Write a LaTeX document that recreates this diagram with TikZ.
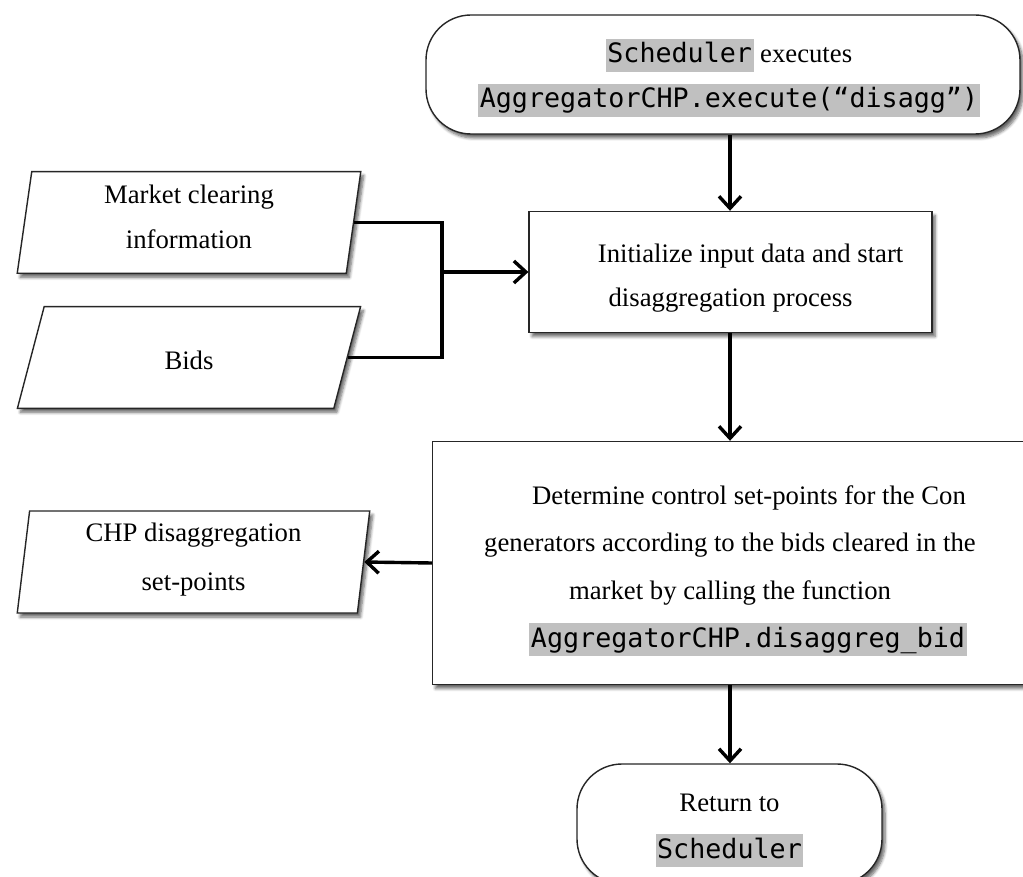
\documentclass[tikz,border=0pt]{standalone}
\usepackage{fontspec}
\setmainfont{Liberation Serif}
\setmonofont{DejaVu Sans Mono}
\usetikzlibrary{shapes.geometric,arrows.meta,shadows.blur}
\definecolor{hlgray}{RGB}{192,192,192}
\newcommand\hlcode[1]{{\setlength{\fboxsep}{1.5pt}\colorbox{hlgray}{\ttfamily\rule[-0.28em]{0pt}{1.13em}#1}}}
\newcommand\toppad[1]{\rule{0pt}{#1pt}}
\newcommand\botpad[1]{\rule[-#1pt]{0pt}{#1pt}}
\tikzset{
  base/.style={draw=black!85, line width=1.4pt, fill=white, align=center, inner sep=0pt,
    blur shadow={shadow xshift=3pt, shadow yshift=-4pt, shadow blur steps=6, shadow opacity=60, shadow blur radius=3pt}},
  proc/.style={base, rectangle},
  term/.style={base, rectangle, rounded corners=45pt},
  io/.style={base, trapezium, trapezium left angle=84, trapezium right angle=96, trapezium stretches=true},
  arr/.style={line width=3.4pt, -{Straight Barb[length=12pt,width=22pt]}},
  conn/.style={line width=3.4pt},
}
\begin{document}
\begin{tikzpicture}[x=1pt,y=-1pt]
\useasboundingbox (0,0) rectangle (1023,877);
\clip (0,0) rectangle (1023,877);
\node[term, minimum width=594, minimum height=119, font=\fontsize{26.7}{45}\selectfont] (start) at (723,74.5)
  {\toppad{31}\hspace*{12pt}\hlcode{Scheduler} executes\\\hspace*{12pt}\hlcode{AggregatorCHP.execute(“disagg”)}\botpad{9}};
\node[proc, minimum width=403, minimum height=121, font=\fontsize{26.7}{44}\selectfont] (init) at (730.6,272)
  {\toppad{34.6}\hspace*{40pt}Initialize input data and start\\disaggregation process\botpad{9}};
\node[proc, minimum width=595, minimum height=243, font=\fontsize{26.7}{47.7}\selectfont] (det) at (730,563)
  {\toppad{34.1}\hspace*{38pt}Determine control set-points for the Con\\generators according to the bids cleared in the\\market by calling the function\\\hspace*{36pt}\hlcode{AggregatorCHP.disaggreg\_bid}\botpad{9}};
\node[term, minimum width=305, minimum height=120, font=\fontsize{26.7}{47}\selectfont] (ret) at (729.5,824)
  {\toppad{30}Return to\\\hlcode{Scheduler}\botpad{9}};
\node[io, minimum width=344, minimum height=101.6, font=\fontsize{26.7}{45}\selectfont] (mc) at (189,222.5)
  {Market clearing\\information\botpad{11}};
\node[io, minimum width=344, minimum height=101.6, font=\fontsize{26.7}{45}\selectfont] (bids) at (189,357.5)
  {\toppad{34}Bids\botpad{9}};
\node[io, minimum width=353, minimum height=102, font=\fontsize{26.7}{48.3}\selectfont] (chp) at (193.5,562)
  {CHP disaggregation\\set-points\botpad{10.5}};
\coordinate (ax) at (730,0);
\coordinate (jx) at (442,272);
\draw[arr] (start.south -| ax) -- (init.north -| ax);
\draw[arr] (init.south -| ax) -- (det.north -| ax);
\draw[arr] (det.south -| ax) -- (ret.north -| ax);
\draw[conn] (mc.east) -| (jx) |- (bids.east);
\draw[arr] (jx) -- (init.west);
\draw[arr] (det.west) -- (chp.east);
\end{tikzpicture}
\end{document}
